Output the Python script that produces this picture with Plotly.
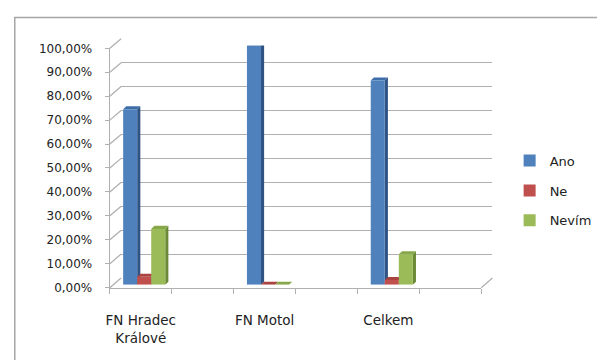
import plotly.graph_objects as go

# ---- data ----
categories = ["FN Hradec<br>Králové", "FN Motol", "Celkem"]
series_names = ["Ano", "Ne", "Nevím"]
ano = [0.7333, 1.0, 0.853]
ne = [0.0333, 0.0, 0.020]
nevim = [0.2333, 0.0, 0.127]
y_ticks = [0.0, 0.1, 0.2, 0.3, 0.4, 0.5, 0.6, 0.7, 0.8, 0.9, 1.0]

series_values = [ano, ne, nevim]
front_colors = ["#4F81BD", "#C0504D", "#9BBB59"]
side_colors = ["#2F5484", "#8A3431", "#6B8A38"]
top_colors = ["#3E6EA8", "#A94441", "#87A84A"]

W, H = 597, 360
GRID = "#B0B0B0"

# geometry (pixels)
FX0, FX1 = 108, 487      # front plot x extent
FY0, FY1 = 292, 43       # front y of 0 % and 100 %
BDX, BDY = 11.5, 10      # back wall offset
MDX, MDY = 3.5, 3        # bar plane offset

def pxx(p):
    return p / W

def pxy(p):
    return 1 - p / H

n_slots = 2 * len(categories)
xr = [-0.5, n_slots - 0.5]
cat_x = [2 * i for i in range(len(categories))]

fig = go.Figure()

# empty traces so that the front axes and the back wall are drawn
fig.add_trace(go.Scatter(x=[], y=[], xaxis="x", yaxis="y", showlegend=False, hoverinfo="skip"))
fig.add_trace(go.Scatter(x=[], y=[], xaxis="x2", yaxis="y2", showlegend=False, hoverinfo="skip"))

bargap = 0.32
w = (1 - bargap) / len(series_names)
ddx = 3.2 / ((FX1 - FX0) / n_slots)
ddy = 3.2 / (FY0 - FY1)

shapes = []
for i, (name, vals) in enumerate(zip(series_names, series_values)):
    off = -(1 - bargap) / 2 + i * w
    fig.add_trace(go.Bar(
        x=cat_x, y=vals, name=name, xaxis="x3", yaxis="y3",
        width=w, offset=off, marker=dict(color=front_colors[i], line=dict(width=0)),
        legendgroup=name,
    ))
    for cx, v in zip(cat_x, vals):
        l = cx + off
        r = l + w
        shapes.append(dict(
            type="path", xref="x3", yref="y3", layer="between",
            path=f"M{r},0 L{r},{v} L{r+ddx},{v+ddy} L{r+ddx},{ddy} Z",
            fillcolor=side_colors[i], line=dict(width=0),
        ))
        shapes.append(dict(
            type="path", xref="x3", yref="y3", layer="between",
            path=f"M{l},{v} L{r},{v} L{r+ddx},{v+ddy} L{l+ddx},{v+ddy} Z",
            fillcolor=top_colors[i], line=dict(width=0),
        ))

# side-wall gridlines (front tick -> back gridline)
for t in y_ticks:
    yf = FY0 - t * (FY0 - FY1)
    shapes.append(dict(
        type="line", xref="paper", yref="paper", layer="below",
        x0=pxx(FX0), y0=pxy(yf), x1=pxx(FX0 + BDX), y1=pxy(yf - BDY),
        line=dict(color=GRID, width=1.3),
    ))
# floor right edge
shapes.append(dict(
    type="line", xref="paper", yref="paper", layer="below",
    x0=pxx(FX1), y0=pxy(FY0), x1=pxx(FX1 + BDX), y1=pxy(FY0 - BDY),
    line=dict(color=GRID, width=1.3),
))
# chart border
shapes.append(dict(
    type="rect", xref="paper", yref="paper", layer="below",
    x0=pxx(11), y0=pxy(11), x1=1.2, y1=-0.2,
    line=dict(color="#A6A6A6", width=1.5), fillcolor="rgba(0,0,0,0)",
))

font_family = "'DejaVu Sans', Verdana, sans-serif"
TXT = "#222222"

fig.update_layout(
    width=W, height=H,
    margin=dict(l=0, r=0, t=0, b=0),
    paper_bgcolor="white", plot_bgcolor="rgba(0,0,0,0)",
    separators=", ",
    font=dict(family=font_family, size=12, color=TXT),
    barmode="overlay",
    shapes=shapes,
    showlegend=True,
    legend=dict(
        x=pxx(516), xanchor="left", y=pxy(191), yanchor="middle",
        font=dict(size=13, color=TXT),
        tracegroupgap=10, itemwidth=30,
        bgcolor="rgba(0,0,0,0)",
    ),
    xaxis=dict(
        domain=[pxx(FX0), pxx(FX1)], anchor="y", range=xr,
        tickvals=cat_x, ticktext=categories, ticks="",
        showline=True, linecolor=GRID, linewidth=1.3,
        showgrid=False, zeroline=False,
        minor=dict(ticks="outside", tick0=-0.5, dtick=1, ticklen=5,
                   tickcolor=GRID, tickwidth=1.3, showgrid=False),
        tickfont=dict(size=13.5, color=TXT),
        ticklabelstandoff=20,
    ),
    yaxis=dict(
        domain=[pxy(FY0), pxy(FY1)], anchor="x", range=[0, 1],
        tickvals=y_ticks, tickformat=".2%",
        ticks="outside", ticklen=4, tickcolor=GRID, tickwidth=1.3,
        showline=True, linecolor=GRID, linewidth=1.3,
        showgrid=False, zeroline=False,
        tickfont=dict(size=12, color=TXT),
        ticklabelstandoff=10,
    ),
    xaxis2=dict(
        domain=[pxx(FX0 + BDX), pxx(FX1 + BDX)], anchor="y2", range=xr,
        showticklabels=False, ticks="", showgrid=False, zeroline=False, showline=False,
    ),
    yaxis2=dict(
        domain=[pxy(FY0 - BDY), pxy(FY1 - BDY)], anchor="x2", range=[-0.0005, 1.0005],
        tickvals=y_ticks, showticklabels=False, ticks="",
        showgrid=True, gridcolor=GRID, gridwidth=1.3, zeroline=False, showline=False,
    ),
    xaxis3=dict(
        domain=[pxx(FX0 + MDX), pxx(FX1 + MDX)], anchor="y3", range=xr, visible=False,
    ),
    yaxis3=dict(
        domain=[pxy(FY0 - MDY), pxy(FY1 - MDY)], anchor="x3", range=[0, 1], visible=False,
    ),
)

fig.write_html("out.html")
